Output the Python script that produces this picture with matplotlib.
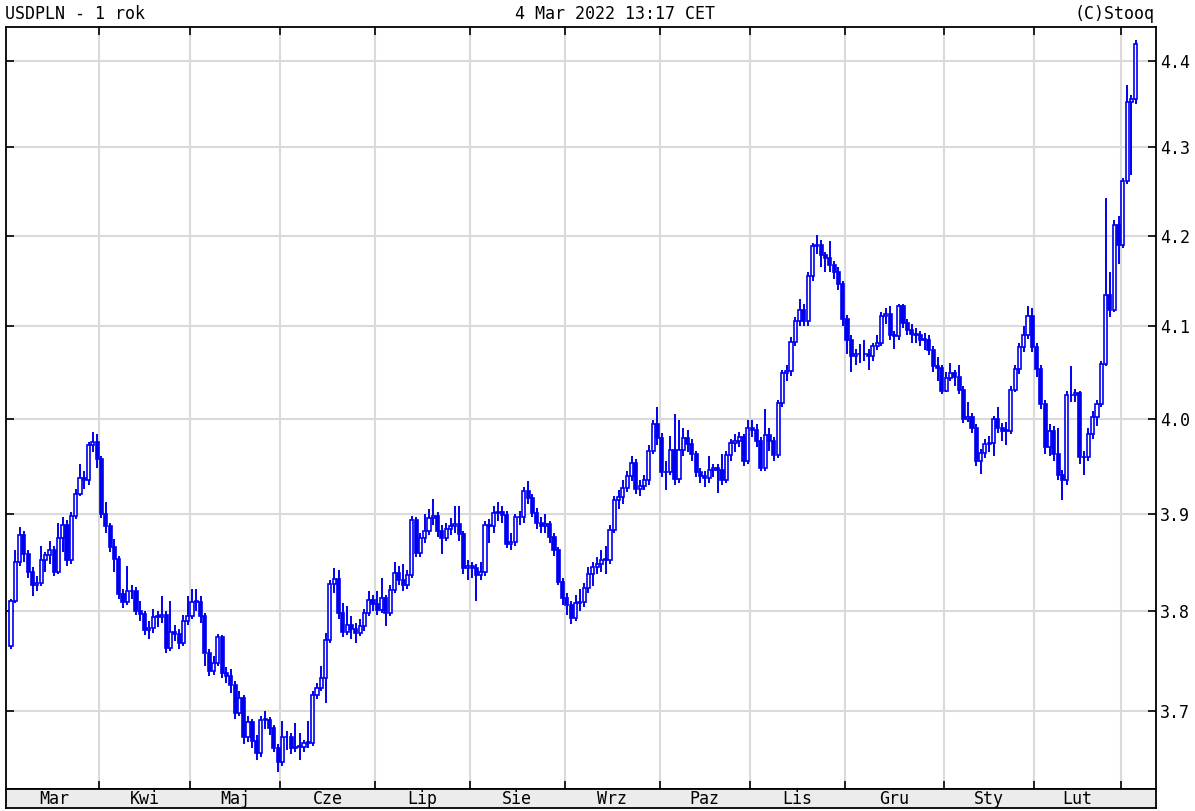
import matplotlib
matplotlib.use("Agg")
import matplotlib.pyplot as plt
from matplotlib.ticker import FixedLocator, NullLocator, FormatStrFormatter

# USDPLN daily candles, Mar 2021 - Mar 2022
first_open = 3.765
closes = [
    3.810, 3.850, 3.878, 3.858, 3.840, 3.826, 3.828, 3.852, 3.857, 3.862,
    3.840, 3.875, 3.888, 3.852, 3.898, 3.920, 3.937, 3.935, 3.972, 3.975,
    3.957, 3.900, 3.887, 3.865, 3.853, 3.817, 3.809, 3.820, 3.820, 3.800,
    3.797, 3.781, 3.783, 3.794, 3.794, 3.796, 3.763, 3.779, 3.777, 3.768,
    3.790, 3.795, 3.809, 3.809, 3.795, 3.758, 3.740, 3.748, 3.774, 3.738,
    3.735, 3.726, 3.698, 3.713, 3.674, 3.689, 3.671, 3.659, 3.691, 3.691,
    3.683, 3.664, 3.650, 3.674, 3.674, 3.664, 3.665, 3.665, 3.669, 3.669,
    3.716, 3.723, 3.733, 3.771, 3.827, 3.833, 3.798, 3.779, 3.786, 3.782,
    3.778, 3.785, 3.798, 3.811, 3.807, 3.801, 3.813, 3.798, 3.821, 3.839,
    3.832, 3.826, 3.837, 3.893, 3.859, 3.875, 3.882, 3.895, 3.898, 3.882,
    3.875, 3.884, 3.887, 3.889, 3.879, 3.844, 3.846, 3.844, 3.837, 3.840,
    3.888, 3.887, 3.901, 3.902, 3.899, 3.869, 3.871, 3.896, 3.896, 3.924,
    3.916, 3.901, 3.890, 3.887, 3.889, 3.876, 3.862, 3.830, 3.813, 3.806,
    3.793, 3.808, 3.809, 3.823, 3.838, 3.845, 3.848, 3.852, 3.852, 3.883,
    3.914, 3.917, 3.927, 3.939, 3.953, 3.926, 3.929, 3.935, 3.966, 3.994,
    3.979, 3.944, 3.943, 3.967, 3.936, 3.967, 3.979, 3.973, 3.962, 3.944,
    3.939, 3.937, 3.946, 3.948, 3.946, 3.935, 3.961, 3.974, 3.976, 3.980,
    3.955, 3.990, 3.988, 3.976, 3.948, 3.983, 3.976, 3.961, 4.017, 4.049,
    4.051, 4.083, 4.106, 4.118, 4.106, 4.155, 4.188, 4.190, 4.178, 4.175,
    4.167, 4.160, 4.146, 4.108, 4.085, 4.067, 4.069, 4.069, 4.070, 4.067,
    4.078, 4.082, 4.111, 4.113, 4.090, 4.089, 4.122, 4.103, 4.096, 4.091,
    4.090, 4.085, 4.085, 4.074, 4.056, 4.054, 4.030, 4.044, 4.049, 4.045,
    4.031, 4.000, 4.002, 3.990, 3.955, 3.963, 3.973, 3.974, 4.000, 3.990,
    3.987, 3.987, 4.031, 4.053, 4.077, 4.090, 4.111, 4.077, 4.053, 4.016,
    3.970, 3.987, 3.962, 3.940, 3.935, 4.025, 4.025, 4.027, 3.959, 3.959,
    3.984, 4.002, 4.016, 4.059, 4.134, 4.118, 4.212, 4.190, 4.262, 4.352,
    4.356, 4.420,
]
highs = [
    3.812, 3.862, 3.886, 3.882, 3.862, 3.845, 3.836, 3.866, 3.860, 3.872,
    3.866, 3.890, 3.896, 3.893, 3.902, 3.926, 3.952, 3.945, 3.975, 3.986,
    3.984, 3.960, 3.912, 3.890, 3.874, 3.856, 3.822, 3.846, 3.826, 3.824,
    3.810, 3.800, 3.790, 3.802, 3.800, 3.815, 3.800, 3.810, 3.786, 3.782,
    3.796, 3.815, 3.822, 3.822, 3.815, 3.798, 3.762, 3.755, 3.777, 3.776,
    3.744, 3.742, 3.730, 3.720, 3.716, 3.695, 3.692, 3.676, 3.695, 3.700,
    3.694, 3.686, 3.668, 3.690, 3.680, 3.678, 3.688, 3.678, 3.672, 3.690,
    3.720, 3.728, 3.745, 3.778, 3.832, 3.844, 3.842, 3.808, 3.805, 3.795,
    3.788, 3.792, 3.802, 3.820, 3.816, 3.820, 3.834, 3.816, 3.826, 3.850,
    3.846, 3.848, 3.842, 3.898, 3.896, 3.880, 3.900, 3.905, 3.915, 3.902,
    3.888, 3.890, 3.895, 3.908, 3.908, 3.882, 3.852, 3.850, 3.848, 3.850,
    3.892, 3.894, 3.908, 3.912, 3.908, 3.903, 3.880, 3.900, 3.903, 3.928,
    3.934, 3.920, 3.906, 3.896, 3.900, 3.892, 3.880, 3.865, 3.834, 3.818,
    3.810, 3.816, 3.822, 3.828, 3.845, 3.850, 3.855, 3.862, 3.866, 3.888,
    3.918, 3.925, 3.935, 3.945, 3.960, 3.957, 3.935, 3.940, 3.972, 3.998,
    4.012, 3.985, 3.955, 3.982, 4.005, 3.998, 3.990, 3.988, 3.978, 3.966,
    3.948, 3.945, 3.960, 3.952, 3.952, 3.962, 3.966, 3.978, 3.984, 3.986,
    3.984, 3.998, 3.998, 3.994, 3.980, 4.010, 3.990, 3.980, 4.020, 4.052,
    4.058, 4.088, 4.110, 4.130, 4.124, 4.160, 4.192, 4.201, 4.195, 4.182,
    4.194, 4.172, 4.165, 4.150, 4.112, 4.090, 4.075, 4.080, 4.085, 4.075,
    4.082, 4.090, 4.115, 4.120, 4.122, 4.095, 4.124, 4.124, 4.108, 4.102,
    4.098, 4.094, 4.092, 4.090, 4.078, 4.066, 4.058, 4.050, 4.060, 4.052,
    4.058, 4.035, 4.018, 4.006, 3.994, 3.968, 3.978, 3.982, 4.003, 4.012,
    3.995, 3.996, 4.035, 4.058, 4.082, 4.100, 4.122, 4.120, 4.082, 4.058,
    4.020, 3.994, 3.992, 3.990, 3.946, 4.030, 4.057, 4.032, 4.030, 3.966,
    3.990, 4.008, 4.020, 4.062, 4.242, 4.160, 4.218, 4.222, 4.265, 4.372,
    4.360, 4.425,
]
lows = [
    3.762, 3.808, 3.846, 3.850, 3.834, 3.815, 3.820, 3.825, 3.840, 3.848,
    3.836, 3.838, 3.860, 3.846, 3.848, 3.894, 3.918, 3.926, 3.930, 3.965,
    3.948, 3.895, 3.880, 3.860, 3.840, 3.812, 3.803, 3.806, 3.812, 3.796,
    3.790, 3.776, 3.772, 3.778, 3.784, 3.788, 3.758, 3.760, 3.770, 3.762,
    3.765, 3.786, 3.792, 3.800, 3.788, 3.745, 3.735, 3.736, 3.745, 3.733,
    3.728, 3.718, 3.692, 3.695, 3.668, 3.670, 3.664, 3.652, 3.655, 3.682,
    3.676, 3.660, 3.640, 3.646, 3.662, 3.658, 3.660, 3.652, 3.660, 3.664,
    3.666, 3.712, 3.720, 3.708, 3.768, 3.818, 3.792, 3.774, 3.776, 3.772,
    3.768, 3.775, 3.780, 3.795, 3.800, 3.796, 3.798, 3.785, 3.795, 3.818,
    3.826, 3.820, 3.822, 3.834, 3.855, 3.855, 3.870, 3.878, 3.888, 3.876,
    3.858, 3.872, 3.878, 3.880, 3.872, 3.838, 3.832, 3.834, 3.810, 3.832,
    3.836, 3.870, 3.880, 3.892, 3.890, 3.864, 3.862, 3.866, 3.888, 3.890,
    3.910, 3.896, 3.884, 3.880, 3.880, 3.870, 3.856, 3.826, 3.806, 3.796,
    3.787, 3.790, 3.800, 3.804, 3.818, 3.825, 3.838, 3.840, 3.838, 3.848,
    3.880, 3.905, 3.910, 3.922, 3.934, 3.920, 3.918, 3.925, 3.930, 3.962,
    3.972, 3.938, 3.925, 3.940, 3.930, 3.932, 3.960, 3.965, 3.955, 3.938,
    3.932, 3.928, 3.932, 3.938, 3.921, 3.930, 3.932, 3.955, 3.965, 3.970,
    3.950, 3.952, 3.980, 3.970, 3.945, 3.945, 3.966, 3.955, 3.958, 4.012,
    4.040, 4.046, 4.078, 4.100, 4.100, 4.100, 4.150, 4.180, 4.165, 4.160,
    4.160, 4.152, 4.140, 4.100, 4.070, 4.050, 4.058, 4.060, 4.062, 4.052,
    4.062, 4.074, 4.078, 4.102, 4.085, 4.075, 4.085, 4.098, 4.090, 4.082,
    4.082, 4.078, 4.074, 4.068, 4.050, 4.040, 4.026, 4.028, 4.040, 4.035,
    4.026, 3.995, 3.996, 3.985, 3.950, 3.941, 3.958, 3.965, 3.960, 3.985,
    3.976, 3.972, 3.984, 4.028, 4.048, 4.072, 4.086, 4.072, 4.045, 4.010,
    3.962, 3.960, 3.955, 3.935, 3.914, 3.930, 4.018, 4.018, 3.952, 3.940,
    3.955, 3.978, 3.992, 4.012, 4.056, 4.110, 4.115, 4.168, 4.186, 4.258,
    4.268, 4.350,
]
month_names = ['Mar', 'Kwi', 'Maj', 'Cze', 'Lip', 'Sie', 'Wrz', 'Paz', 'Lis',
               'Gru', 'Sty', 'Lut', '']
month_days = [21, 21, 21, 22, 22, 22, 22, 21, 22, 23, 21, 20, 4]
price_ticks = [3.7, 3.8, 3.9, 4.0, 4.1, 4.2, 4.3, 4.4]

opens = [first_open] + closes[:-1]
x = list(range(len(closes)))

W, H = 1195, 811
fig = plt.figure(figsize=(W / 100, H / 100), dpi=100)
fig.patch.set_facecolor('white')

# main price panel (pixel layout)
ax = fig.add_axes([6 / W, 1 - 789 / H, 1150 / W, 762 / H])
ax.set_yscale('log')
ax.set_ylim(3.6239, 4.4402)
ax.set_xlim(-1.16, 265.7)

# month boundaries between trading days
edges = []
pos = -0.5
for n in month_days:
    pos += n
    edges.append(pos)
edges = edges[:-1]

ax.yaxis.set_major_locator(FixedLocator(price_ticks))
ax.yaxis.set_minor_locator(NullLocator())
ax.yaxis.set_major_formatter(FormatStrFormatter('%.1f'))
ax.set_xticks(edges)
ax.set_xticklabels([])
ax.tick_params(axis='y', which='major', left=True, right=True, labelleft=False,
               labelright=True, direction='in', length=6, width=1.2, pad=3,
               labelsize=12, labelfontfamily='DejaVu Sans Mono')
ax.tick_params(axis='x', top=True, bottom=True, direction='in', length=6, width=1.2)
ax.grid(True, color='#dadada', linewidth=1.5)
ax.set_axisbelow(True)
for s in ax.spines.values():
    s.set_linewidth(1.3)

# candles: hollow when up, filled when down
bottoms = [min(o, c) for o, c in zip(opens, closes)]
heights = [max(abs(c - o), 0.0008) for o, c in zip(opens, closes)]
faces = ['white' if c >= o else '#0000f0' for o, c in zip(opens, closes)]
ax.vlines(x, lows, highs, color='#0000f0', linewidth=1.4, zorder=2)
ax.bar(x, heights, width=0.72, bottom=bottoms, color=faces, edgecolor='#0000f0',
       linewidth=1.2, zorder=3)

# month label strip
band = fig.add_axes([6 / W, 1 - 808 / H, 1150 / W, 19 / H])
band.set_facecolor('#ececec')
band.set_xlim(ax.get_xlim())
band.set_ylim(0, 1)
band.set_xticks([])
band.set_yticks([])
for s in band.spines.values():
    s.set_linewidth(1.3)
starts = [-0.5] + edges
ends = edges + [len(closes) - 0.5]
for name, a, b in zip(month_names, starts, ends):
    if name:
        band.text((a + b) / 2, 0.45, name, ha='center', va='center',
                  fontsize=12, family='DejaVu Sans Mono')

fig.text(5 / W, 1 - 14 / H, 'USDPLN - 1 rok', ha='left', va='center',
         fontsize=12, family='DejaVu Sans Mono')
fig.text(615 / W, 1 - 14 / H, '4 Mar 2022 13:17 CET', ha='center', va='center',
         fontsize=12, family='DejaVu Sans Mono')
fig.text(1155 / W, 1 - 14 / H, '(C)Stooq', ha='right', va='center',
         fontsize=12, family='DejaVu Sans Mono')

fig.savefig('out.png', dpi=100)
